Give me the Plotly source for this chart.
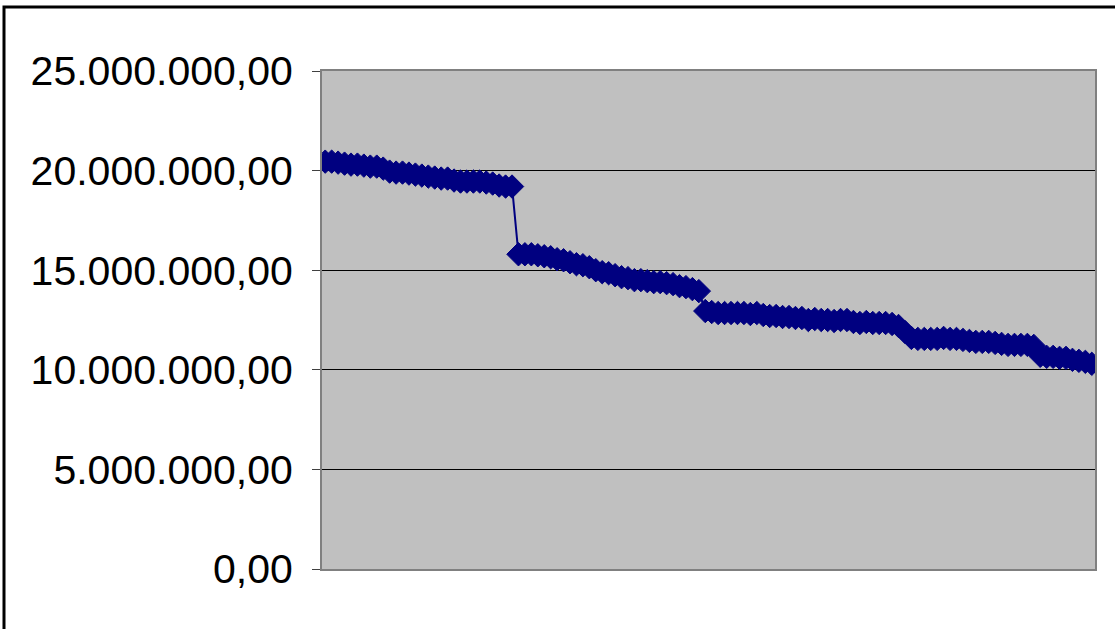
import plotly.graph_objects as go

# ---- data ----
values_millions = [
    # segment 1
    20.45, 20.45, 20.40, 20.35, 20.30, 20.30, 20.25, 20.20, 20.20, 20.10,
    19.95, 19.90, 19.90, 19.85, 19.80, 19.75, 19.70, 19.65, 19.60, 19.60,
    19.50, 19.45, 19.45, 19.45, 19.45, 19.40, 19.35, 19.25, 19.20, 19.20,
    # segment 2
    15.80, 15.80, 15.80, 15.75, 15.70, 15.65, 15.55, 15.50, 15.40, 15.30,
    15.25, 15.15, 15.00, 14.90, 14.85, 14.75, 14.65, 14.60, 14.50, 14.50,
    14.45, 14.40, 14.40, 14.35, 14.30, 14.20, 14.15, 14.05, 13.95, 12.95,
    # segment 3
    12.90, 12.85, 12.85, 12.85, 12.85, 12.85, 12.80, 12.85, 12.75, 12.70,
    12.70, 12.65, 12.65, 12.60, 12.60, 12.50, 12.55, 12.50, 12.50, 12.45,
    12.50, 12.50, 12.40, 12.35, 12.40, 12.35, 12.35, 12.35, 12.30, 12.20,
    # segment 4
    11.90, 11.60, 11.55, 11.55, 11.55, 11.55, 11.60, 11.55, 11.55, 11.50,
    11.45, 11.40, 11.40, 11.40, 11.35, 11.30, 11.25, 11.25, 11.25, 11.25,
    11.20, 10.70,
    # segment 5
    10.65, 10.65, 10.60, 10.60, 10.50, 10.45, 10.40, 10.30,
]
values = [v * 1_000_000 for v in values_millions]
categories = list(range(1, len(values) + 1))

y_tick_values = [0, 5_000_000, 10_000_000, 15_000_000, 20_000_000, 25_000_000]
y_tick_labels = ["0,00", "5.000.000,00", "10.000.000,00", "15.000.000,00",
                 "20.000.000,00", "25.000.000,00"]

# ---- figure ----
fig = go.Figure()
fig.add_trace(go.Scatter(
    x=categories, y=values, mode="lines+markers",
    line=dict(color="#000080", width=2),
    marker=dict(symbol="diamond", size=18, color="#000080",
                line=dict(color="#000080", width=1)),
    showlegend=False,
))

L, R, T, B = 322, 20, 71, 60
W, H = 1115, 629
pw, ph = W - L - R, H - T - B

fig.update_layout(
    width=W, height=H,
    margin=dict(l=L, r=R, t=T, b=B, pad=0),
    paper_bgcolor="white",
    plot_bgcolor="#C0C0C0",
    font=dict(family="Liberation Sans, Arial, sans-serif", color="black"),
    xaxis=dict(range=[0.5, len(values) + 0.5], showticklabels=False,
               showgrid=False, zeroline=False, ticks="",
               showline=True, linecolor="#808080", linewidth=2, mirror=True),
    yaxis=dict(range=[0, 25_000_000], tickvals=y_tick_values, ticktext=y_tick_labels,
               tickfont=dict(size=41, family="Liberation Sans, Arial, sans-serif"),
               showgrid=True, gridcolor="black", gridwidth=1, zeroline=False,
               ticks="outside", ticklen=8, tickcolor="#404040", tickwidth=1,
               ticklabelstandoff=11,
               showline=True, linecolor="#808080", linewidth=2, mirror=True),
)

# outer chart-area border (pixel positions converted to paper fractions)
def px_to_paper_x(px):
    return (px - L) / pw

def py_to_paper_y(py):
    return (H - B - py) / ph

fig.add_shape(type="rect", xref="paper", yref="paper",
              x0=px_to_paper_x(4), x1=px_to_paper_x(1125),
              y0=py_to_paper_y(660), y1=py_to_paper_y(7),
              line=dict(color="black", width=3), fillcolor="rgba(0,0,0,0)",
              layer="below")

fig.write_html("out.html",
               config={"displayModeBar": False},
               post_script="document.body.style.margin='0px';document.body.style.overflow='hidden';")
